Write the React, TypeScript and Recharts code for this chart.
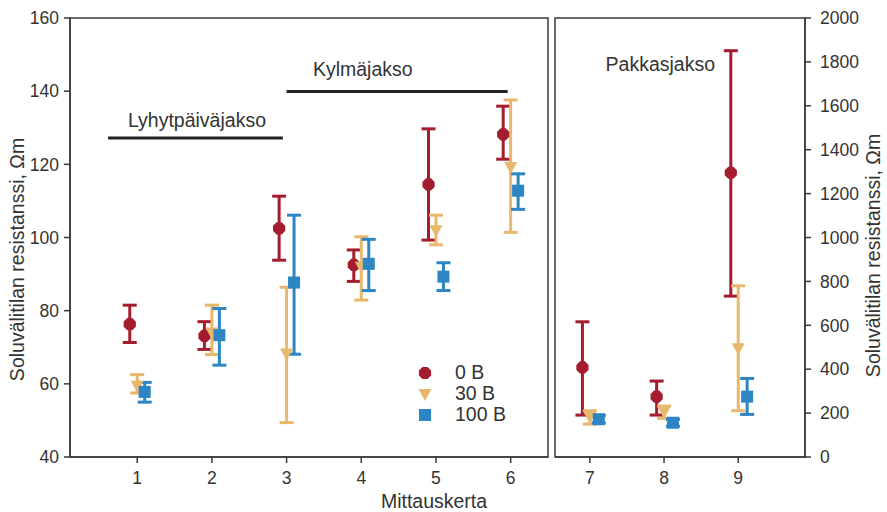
import React from 'react';
import {
  ScatterChart, Scatter, XAxis, YAxis, ErrorBar, ReferenceLine, ReferenceArea, ReferenceDot, Label,
} from 'recharts';

// ---- data ----
const periodsA = [1, 2, 3, 4, 5, 6];
const periodsB = [7, 8, 9];
const seriesNames = ['0 B', '30 B', '100 B'];

const a0Mean = [76.3, 73.1, 102.5, 92.5, 114.5, 128.2];
const a0Low = [71.3, 69.4, 93.8, 88.0, 99.3, 121.4];
const a0High = [81.5, 77.0, 111.3, 96.6, 129.7, 135.9];
const a30Mean = [59.5, 74.0, 68.3, 92.0, 102.0, 119.3];
const a30Low = [57.5, 68.0, 49.4, 82.9, 98.0, 101.4];
const a30High = [62.5, 81.5, 86.4, 100.2, 106.1, 137.6];
const a100Mean = [57.8, 73.3, 87.7, 92.8, 89.3, 112.8];
const a100Low = [55.0, 65.1, 68.1, 85.5, 85.5, 107.7];
const a100High = [60.4, 80.6, 106.1, 99.5, 93.1, 117.4];

const b0Mean = [408, 275, 1295];
const b0Low = [191, 191, 733];
const b0High = [616, 346, 1851];
const b30Mean = [183, 206, 495];
const b30Low = [150, 176, 211];
const b30High = [211, 232, 780];
const b100Mean = [172, 156, 275];
const b100Low = [155, 140, 194];
const b100High = [190, 172, 358];

const leftTicks = [40, 60, 80, 100, 120, 140, 160];
const rightTicks = [0, 200, 400, 600, 800, 1000, 1200, 1400, 1600, 1800, 2000];

const yLabel = 'Soluvälitilan resistanssi, Ωm';
const xLabel = 'Mittauskerta';
const periodLabels = ['Lyhytpäiväjakso', 'Kylmäjakso', 'Pakkasjakso'];

// ---- styles ----
const COLORS = ['#A31D2F', '#E8B86C', '#2C86C4'];
const OFFSETS_A = [-0.1, 0, 0.1];
const OFFSETS_B = [-0.1, 0, 0.12];
const FONT = '"Liberation Sans", Arial, sans-serif';
const TXT = '#333';
const AX = '#3a3a3a';
const TICK_FS = 17.5;
const TITLE_FS = 19.5;

function build(xs: number[], mean: number[], low: number[], high: number[], off: number) {
  return xs.map((x, i) => ({
    x: x + off,
    y: mean[i],
    err: [mean[i] - low[i], high[i] - mean[i]],
  }));
}

const Octagon = (p: any) => {
  const { cx, cy, fill } = p;
  if (cx == null || cy == null) return null;
  const r = 6.6;
  const pts: string[] = [];
  for (let k = 0; k < 8; k++) {
    const a = (Math.PI / 8) + (k * Math.PI) / 4;
    pts.push(`${cx + r * Math.cos(a)},${cy + r * Math.sin(a)}`);
  }
  return <polygon points={pts.join(' ')} fill={fill} />;
};
const TriDown = (p: any) => {
  const { cx, cy, fill } = p;
  if (cx == null || cy == null) return null;
  return <polygon points={`${cx - 6.5},${cy - 5} ${cx + 6.5},${cy - 5} ${cx},${cy + 7}`} fill={fill} />;
};
const Sq = (p: any) => {
  const { cx, cy, fill } = p;
  if (cx == null || cy == null) return null;
  return <rect x={cx - 6} y={cy - 6} width={12} height={12} fill={fill} />;
};
const SHAPES = [Octagon, TriDown, Sq];

const TextShape = (text: string) => (p: any) => (
  <text x={p.cx} y={p.cy} textAnchor="middle" fontFamily={FONT} fontSize={TITLE_FS} fill={TXT}>
    {text}
  </text>
);

const VLabel = (dx: number, dy: number) => (props: any) => {
  const vb = props.viewBox || {};
  const cx = vb.x + vb.width / 2 + dx;
  const cy = vb.y + vb.height / 2 + dy;
  return (
    <text transform={`translate(${cx},${cy}) rotate(-90)`} textAnchor="middle" dominantBaseline="central"
      fontFamily={FONT} fontSize={TITLE_FS} fill={TXT}>
      {yLabel}
    </text>
  );
};

const tickStyle = { fontFamily: FONT, fontSize: TICK_FS, fill: TXT };

export default function App() {
  const dataA = [
    build(periodsA, a0Mean, a0Low, a0High, OFFSETS_A[0]),
    build(periodsA, a30Mean, a30Low, a30High, OFFSETS_A[1]),
    build(periodsA, a100Mean, a100Low, a100High, OFFSETS_A[2]),
  ];
  const dataB = [
    build(periodsB, b0Mean, b0Low, b0High, OFFSETS_B[0]),
    build(periodsB, b30Mean, b30Low, b30High, OFFSETS_B[1]),
    build(periodsB, b100Mean, b100Low, b100High, OFFSETS_B[2]),
  ];
  const domA: [number, number] = [0.1, 6.5];
  const domB: [number, number] = [6.53, 9.9];

  return (
    <div style={{ position: 'absolute', left: 0, top: 0, width: 887, height: 512, background: '#fff', fontFamily: FONT }}>
      <div style={{ position: 'absolute', left: 0, top: 0 }}>
        <ScatterChart width={560} height={512} margin={{ top: 18, right: 12, bottom: 25, left: 0 }}>
          <XAxis
            type="number" dataKey="x" domain={domA} ticks={periodsA} allowDataOverflow
            height={30} tick={tickStyle} tickSize={6} tickMargin={9}
            stroke={AX} strokeWidth={1.5} tickLine={{ stroke: AX, strokeWidth: 1.5 }}
          />
          <YAxis
            type="number" dataKey="y" domain={[40, 160]} ticks={leftTicks} allowDataOverflow
            width={70} tick={tickStyle} tickSize={6} tickMargin={5}
            stroke={AX} strokeWidth={1.5} tickLine={{ stroke: AX, strokeWidth: 1.5 }}
          >
            <Label content={VLabel(-18, 22)} />
          </YAxis>
          <ReferenceArea x1={domA[0]} x2={domA[1]} y1={40} y2={160} fill="none" stroke={AX} strokeWidth={1.5} fillOpacity={0} />
          <ReferenceLine segment={[{ x: 0.61, y: 127.2 }, { x: 2.95, y: 127.2 }]} stroke="#222" strokeWidth={3} />
          <ReferenceLine segment={[{ x: 3.0, y: 139.9 }, { x: 5.96, y: 139.9 }]} stroke="#222" strokeWidth={3} />
          <ReferenceDot x={1.8} y={130.2} r={0} shape={TextShape(periodLabels[0])} />
          <ReferenceDot x={4.02} y={144.1} r={0} shape={TextShape(periodLabels[1])} />
          {dataA.map((d, i) => (
            <Scatter key={i} name={seriesNames[i]} data={d} fill={COLORS[i]} shape={SHAPES[i]} isAnimationActive={false}>
              <ErrorBar dataKey="err" direction="y" width={7} stroke={COLORS[i]} strokeWidth={3} isAnimationActive={false} />
            </Scatter>
          ))}
        </ScatterChart>
      </div>
      <div style={{ position: 'absolute', left: 550, top: 0 }}>
        <ScatterChart width={337} height={512} margin={{ top: 18, right: 0, bottom: 25, left: 5 }}>
          <XAxis
            type="number" dataKey="x" domain={domB} ticks={periodsB} allowDataOverflow
            height={30} tick={tickStyle} tickSize={6} tickMargin={9}
            stroke={AX} strokeWidth={1.5} tickLine={{ stroke: AX, strokeWidth: 1.5 }}
          />
          <YAxis
            type="number" dataKey="y" orientation="right" domain={[0, 2000]} ticks={rightTicks} allowDataOverflow
            width={82} tick={{ ...tickStyle, textAnchor: 'start' }} tickSize={6} tickMargin={9}
            stroke={AX} strokeWidth={1.5} tickLine={{ stroke: AX, strokeWidth: 1.5 }}
          >
            <Label content={VLabel(27, 18)} />
          </YAxis>
          <ReferenceArea x1={domB[0]} x2={domB[1]} y1={0} y2={2000} fill="none" stroke={AX} strokeWidth={1.5} fillOpacity={0} />
          <ReferenceDot x={7.95} y={1758} r={0} shape={TextShape(periodLabels[2])} />
          {dataB.map((d, i) => (
            <Scatter key={i} name={seriesNames[i]} data={d} fill={COLORS[i]} shape={SHAPES[i]} isAnimationActive={false}>
              <ErrorBar dataKey="err" direction="y" width={7} stroke={COLORS[i]} strokeWidth={3} isAnimationActive={false} />
            </Scatter>
          ))}
        </ScatterChart>
      </div>
      <div style={{ position: 'absolute', left: 416, top: 362, fontSize: TITLE_FS, color: TXT, lineHeight: '21px' }}>
        {seriesNames.map((n, i) => {
          const S = SHAPES[i];
          return (
            <div key={n} style={{ display: 'flex', alignItems: 'center', height: 21 }}>
              <svg width={18} height={18} style={{ marginRight: 21 }}>
                <S cx={9} cy={9} fill={COLORS[i]} />
              </svg>
              <span>{n}</span>
            </div>
          );
        })}
      </div>
      <div style={{ position: 'absolute', left: 434, top: 502, transform: 'translate(-50%, -50%)', fontSize: TITLE_FS, color: TXT, whiteSpace: 'nowrap', lineHeight: 1 }}>
        {xLabel}
      </div>
    </div>
  );
}
